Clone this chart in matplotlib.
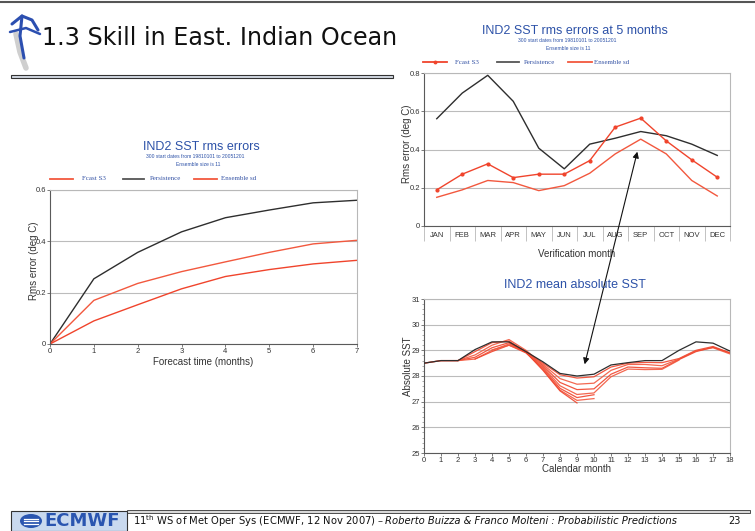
import numpy as np
import matplotlib.pyplot as plt
from matplotlib.patches import FancyArrowPatch, Rectangle, Ellipse
from matplotlib.lines import Line2D

# ---- data ----
# rms errors vs forecast time
lead = [0, 1, 2, 3, 4, 5, 6, 7]
pers_lead = [0, 0.254, 0.357, 0.437, 0.492, 0.522, 0.550, 0.560]
fcast_lead = [0, 0.170, 0.236, 0.282, 0.320, 0.357, 0.390, 0.404]
spread_lead = [0, 0.090, 0.153, 0.215, 0.263, 0.290, 0.312, 0.326]

# rms errors at 5 months vs verification month
months = ['JAN', 'FEB', 'MAR', 'APR', 'MAY', 'JUN', 'JUL', 'AUG', 'SEP', 'OCT', 'NOV', 'DEC']
pers_m = [0.561, 0.695, 0.788, 0.652, 0.407, 0.299, 0.428, 0.459, 0.494, 0.472, 0.428, 0.369]
fcast_m = [0.189, 0.271, 0.325, 0.253, 0.271, 0.271, 0.342, 0.517, 0.564, 0.445, 0.346, 0.255]
spread_m = [0.150, 0.189, 0.238, 0.227, 0.185, 0.211, 0.276, 0.377, 0.454, 0.377, 0.238, 0.157]

# mean absolute SST: analysis and forecasts (start month, values)
cal_month = list(range(19))
sst_obs = [28.5, 28.6, 28.6, 29.03, 29.33, 29.33, 28.95, 28.55, 28.1, 28.0, 28.07,
           28.43, 28.52, 28.6, 28.6, 29.0, 29.33, 29.28, 28.97]
sst_fc = [
    (0, [28.5, 28.6, 28.6, 28.95, 29.3, 29.36, 28.95, 28.5, 28.05, 27.92, 27.97,
         28.35, 28.5, 28.53, 28.52, 28.68, 29.0, 29.15, 28.9]),
    (0, [28.5, 28.6, 28.6, 28.82, 29.2, 29.42, 29.0, 28.45, 27.9, 27.68, 27.72,
         28.22, 28.45, 28.45, 28.4, 28.66, 28.98, 29.1, 28.86]),
    (1, [28.6, 28.6, 28.73, 29.1, 29.3, 28.95, 28.4, 27.75, 27.47, 27.5, 28.07,
         28.35, 28.32, 28.3, 28.64, 28.95, 29.12, 28.9]),
    (2, [28.6, 28.66, 29.0, 29.25, 28.92, 28.35, 27.62, 27.28, 27.34, 27.97,
         28.27, 28.25, 28.26, 28.62]),
    (3, [28.66, 28.95, 29.2, 28.9, 28.3, 27.52, 27.16, 27.27]),
    (4, [29.02, 29.2, 28.95, 28.25, 27.45, 27.05, 27.12]),
    (5, [29.3, 28.92, 28.22, 27.42, 26.95]),
]

W, H = 755, 531
BLUE = '#2d52a8'
LEGTXT = '#3553a5'
RED = '#f0442c'
RED2 = '#f2583e'
BLK = '#2e2e2e'
GRID = '#bcbcbc'
SANS = 'Liberation Sans'


def box(l, t, r, b):
    return [l / W, 1 - b / H, (r - l) / W, (b - t) / H]


def fx(x):
    return x / W


def fy(y):
    return 1 - y / H


def style(ax):
    for s in ['top', 'right']:
        ax.spines[s].set_color('#b8b8b8')
    for s in ['left', 'bottom']:
        ax.spines[s].set_color('#5a5a5a')
    for s in ax.spines.values():
        s.set_linewidth(0.8)
    ax.grid(axis='y', color=GRID, lw=0.8)
    ax.set_axisbelow(True)
    ax.tick_params(labelsize=5.5, length=2, width=0.6, pad=1,
                   colors='#666', labelcolor='#333')
    for lab in ax.get_xticklabels() + ax.get_yticklabels():
        lab.set_family(SANS)


def legend_row(y, items):
    for x0, x1, col, mk, label, tx in items:
        fig.add_artist(Line2D([fx(x0), fx(x1)], [fy(y), fy(y)], color=col, lw=1.3,
                              transform=fig.transFigure))
        if mk:
            xm = (x0 + x1) / 2
            fig.add_artist(Line2D([fx(xm)], [fy(y)], color=col, marker='o', ms=1.8,
                                  transform=fig.transFigure))
        fig.text(fx(tx), fy(y), label, fontsize=5, family='Liberation Serif',
                 color=LEGTXT, va='center', ha='left')


fig = plt.figure(figsize=(7.55, 5.31), dpi=100)

# ---- slide header ----
fig.add_artist(Line2D([0, 1], [fy(1.5), fy(1.5)], color='#555', lw=1.5,
                      transform=fig.transFigure))
fig.text(fx(42), fy(45), '1.3 Skill in East. Indian Ocean', fontsize=17.2,
         family='DejaVu Sans', color='#111', va='baseline', ha='left')
fig.add_artist(Rectangle((fx(11), fy(78)), fx(382), 3.5 / H, facecolor='#d3dae3',
                         edgecolor='#333', lw=0.8, transform=fig.transFigure))
# little blue figure logo
for pts, c, lw, a in [
        ([(16, 34), (20, 52), (26, 68)], '#777', 4, 0.35),
        ([(12, 24), (22, 16), (32, 20), (38, 30)], '#2c4fb0', 2.2, 1),
        ([(22, 16), (20, 36), (24, 58)], '#2c4fb0', 2.2, 1),
        ([(10, 32), (26, 28), (40, 34)], '#2c4fb0', 1.8, 1)]:
    xs, ys = zip(*pts)
    fig.add_artist(Line2D([fx(v) for v in xs], [fy(v) for v in ys], color=c, lw=lw,
                          alpha=a, solid_capstyle='round', transform=fig.transFigure))

# ---- left chart: rms error vs lead ----
ax1 = fig.add_axes(box(50, 190, 357, 344))
ax1.plot(lead, pers_lead, color=BLK, lw=1.0)
ax1.plot(lead, fcast_lead, color=RED2, lw=1.0)
ax1.plot(lead, spread_lead, color=RED, lw=1.0)
ax1.set_xlim(0, 7)
ax1.set_ylim(0, 0.6)
ax1.set_xticks(lead)
ax1.set_yticks([0, 0.2, 0.4, 0.6])
ax1.set_yticklabels(['0', '0.2', '0.4', '0.6'])
style(ax1)
ax1.set_xlabel('Forecast time (months)', fontsize=7, family=SANS, color='#333', labelpad=1)
ax1.set_ylabel('Rms error (deg C)', fontsize=7, family=SANS, color='#333')
ax1.yaxis.set_label_coords(-0.035, 0.54)
fig.text(fx(201), fy(147), 'IND2 SST rms errors', fontsize=9, family=SANS,
         color=BLUE, ha='center', va='center')
fig.text(fx(195), fy(157), '300 start dates from 19810101 to 20051201', fontsize=3.6,
         family=SANS, color=BLUE, ha='center', va='center')
fig.text(fx(198), fy(164.5), 'Ensemble size is 11', fontsize=3.6, family=SANS,
         color=BLUE, ha='center', va='center')
legend_row(179, [(50, 73, RED2, False, 'Fcast S3', 82),
                 (123, 144, '#555', False, 'Persistence', 150),
                 (194, 217, RED2, False, 'Ensemble sd', 221)])

# ---- right top chart: rms error by verification month ----
ax2 = fig.add_axes(box(424, 73, 730, 226))
xm = np.arange(len(months))
ax2.plot(xm, pers_m, color=BLK, lw=1.0)
ax2.plot(xm, fcast_m, color=RED, lw=1.0, marker='o', ms=2)
ax2.plot(xm, spread_m, color=RED2, lw=1.0)
ax2.set_xlim(-0.5, 11.5)
ax2.set_ylim(0, 0.8)
ax2.set_xticks(xm)
ax2.set_xticklabels(months)
ax2.set_xticks(np.arange(-0.5, 12, 1), minor=True)
ax2.set_yticks([0, 0.2, 0.4, 0.6, 0.8])
ax2.set_yticklabels(['0', '0.2', '0.4', '0.6', '0.8'])
style(ax2)
ax2.tick_params(axis='x', which='major', length=0, pad=4)
ax2.tick_params(axis='x', which='minor', length=11, width=0.6, color='#b8b8b8')
ax2.set_xlabel('Verification month', fontsize=7, family=SANS, color='#333', labelpad=2)
ax2.set_ylabel('Rms error (deg C)', fontsize=7, family=SANS, color='#333')
ax2.yaxis.set_label_coords(-0.04, 0.54)
fig.text(fx(575), fy(31), 'IND2 SST rms errors at 5 months', fontsize=9, family=SANS,
         color=BLUE, ha='center', va='center')
fig.text(fx(567), fy(40.5), '300 start dates from 19810101 to 20051201', fontsize=3.6,
         family=SANS, color=BLUE, ha='center', va='center')
fig.text(fx(568), fy(49), 'Ensemble size is 11', fontsize=3.6, family=SANS,
         color=BLUE, ha='center', va='center')
legend_row(62, [(423, 447, RED, True, 'Fcast S3', 455),
                (497, 519, '#555', False, 'Persistence', 524),
                (568, 592, RED2, False, 'Ensemble sd', 594)])

# ---- right bottom chart: mean absolute SST ----
ax3 = fig.add_axes(box(424, 299, 730, 453))
ax3.plot(cal_month, sst_obs, color=BLK, lw=0.9, zorder=3)
for i, (start, vals) in enumerate(sst_fc):
    xs = np.arange(start, start + len(vals))
    ax3.plot(xs, vals, color=[RED, RED2][i % 2], lw=0.9, alpha=0.9)
ax3.set_xlim(0, 18)
ax3.set_ylim(25, 31)
ax3.set_xticks(cal_month)
ax3.set_yticks(range(25, 32))
ax3.set_yticks(np.arange(25, 31.01, 0.2), minor=True)
style(ax3)
ax3.tick_params(axis='y', which='minor', length=1.5, width=0.5, colors='#888')
ax3.set_xlabel('Calendar month', fontsize=7, family=SANS, color='#333', labelpad=0)
ax3.set_ylabel('Absolute SST', fontsize=7, family=SANS, color='#333')
ax3.yaxis.set_label_coords(-0.035, 0.565)
fig.text(fx(575), fy(285), 'IND2 mean absolute SST', fontsize=9, family=SANS,
         color=BLUE, ha='center', va='center')

# arrow linking SEP error peak with the SST dip
fig.add_artist(FancyArrowPatch((fx(584), fy(367)), (fx(638), fy(149)),
                               transform=fig.transFigure, arrowstyle='<|-|>',
                               mutation_scale=9, lw=0.8, color='#111'))

# ---- footer ----
fig.add_artist(Rectangle((fx(127), fy(513)), fx(623), 3 / H, facecolor='#d8d8d8',
                         edgecolor='#333', lw=0.6, transform=fig.transFigure))
fig.add_artist(Rectangle((fx(11), fy(531)), fx(116), 20 / H, facecolor='#c9d9ef',
                         edgecolor='#333', lw=0.8, transform=fig.transFigure))
fig.add_artist(Ellipse((fx(31), fy(521)), 22 / W, 14 / H, facecolor='#2a55b0',
                       edgecolor='none', transform=fig.transFigure))
for dy in (-2.5, 0, 2.5):
    fig.add_artist(Line2D([fx(24), fx(38)], [fy(521 + dy)] * 2, color='white', lw=0.9,
                          transform=fig.transFigure))
fig.text(fx(44), fy(521), 'ECMWF', fontsize=13, family='DejaVu Sans', weight='bold',
         color='#2a55b0', va='center', ha='left')
t1 = fig.text(fx(133), fy(521.5), r'11$^{\rm th}$ WS of Met Oper Sys (ECMWF, 12 Nov 2007) – ',
              fontsize=7.2, family='DejaVu Sans', color='#111', va='center', ha='left')
fig.canvas.draw()
bb = t1.get_window_extent()
fig.text(bb.x1 / W, fy(521.5), 'Roberto Buizza & Franco Molteni : Probabilistic Predictions',
         fontsize=7.2, family='DejaVu Sans', style='italic', color='#111',
         va='center', ha='left')
fig.text(fx(741), fy(521.5), '23', fontsize=7, family='DejaVu Sans', color='#111',
         va='center', ha='right')

fig.savefig('out.png', dpi=100)
